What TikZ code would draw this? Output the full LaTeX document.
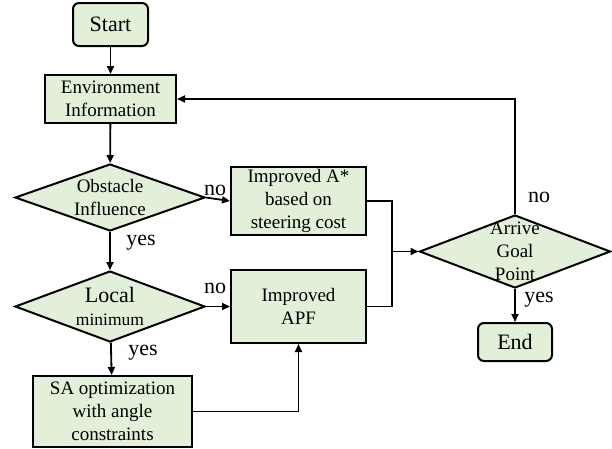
\documentclass[tikz,border=0pt]{standalone}
\usepackage{fontspec}
\setmainfont{Liberation Serif}
\usetikzlibrary{shapes.geometric, arrows.meta}
\definecolor{boxgreen}{HTML}{E2EFD9}
\begin{document}
\begin{tikzpicture}[>={Triangle[length=8pt, width=7pt]}, x=1pt, y=-1pt,
  every node/.style = {font=\fontsize{19}{23}\selectfont, align=center},
  terminal/.style   = {draw, line width=2pt, fill=boxgreen, rounded corners=6pt,
                       font=\fontsize{22}{24}\selectfont},
  process/.style    = {draw, line width=2pt, fill=boxgreen, inner sep=0pt},
  decision/.style   = {draw, line width=2pt, fill=boxgreen, diamond, inner sep=-15pt},
  flow/.style       = {->, line width=1.8pt},
  answer/.style     = {font=\fontsize{22}{24}\selectfont}]
  \useasboundingbox (0,0) rectangle (612,448);

  \node [terminal, minimum width=75pt, minimum height=43pt] (start) at (110.5,24.5) {Start};
  \node [process, minimum width=131pt, minimum height=48pt] (env) at (110.5,99) {Environment\\Information};
  \node [decision, minimum width=190pt, minimum height=67pt] (obst) at (110,197.5) {Obstacle\\Influence};
  \node [decision, minimum width=190pt, minimum height=71pt] (local) at (110,306.5)
    {\fontsize{22}{24}\selectfont Local\\\fontsize{17.5}{24}\selectfont minimum};
  \node [process, minimum width=159pt, minimum height=71pt] (sa) at (112.5,411.5) {SA optimization\\with angle\\constraints};
  \node [process, minimum width=135pt, minimum height=68pt] (astar) at (298.5,201) {Improved A*\\based on\\steering cost};
  \node [process, minimum width=135pt, minimum height=73pt] (apf) at (298.5,306.5) {Improved\\APF};
  \node [decision, minimum width=191pt, minimum height=73pt] (goal) at (515,251.5) {Arrive\\Goal\\Point};
  \node [terminal, minimum width=74pt, minimum height=38pt] (end) at (515,342) {End};
  \coordinate (merge) at (392,251.5);

  \draw [flow] (start) -- (env);
  \draw [flow] (env) -- (obst);
  \draw [flow] (obst) -- (local);
  \draw [flow] (local) -- (sa);
  \draw [flow] (obst.east) -- (astar.west);
  \draw [flow] (local.east) -- (apf.west);
  \draw [flow] (sa.east) -| (apf.south);
  \draw [line width=1.8pt] (astar.east) -| (merge);
  \draw [line width=1.8pt] (apf.east) -| (merge);
  \draw [flow] (merge) -- (goal.west);
  \draw [flow] (goal.north) |- (env.east);
  \draw [flow] (goal.south) -- (end.north);

  \node [answer] (no1)  at (215,190) {no};
  \node [answer] (yes1) at (141,243) {yes};
  \node [answer] (no2)  at (215,288) {no};
  \node [answer] (yes2) at (143,353) {yes};
  \node [answer] (no3)  at (539,197) {no};
  \node [answer] (yes3) at (539,300) {yes};
\end{tikzpicture}
\end{document}
